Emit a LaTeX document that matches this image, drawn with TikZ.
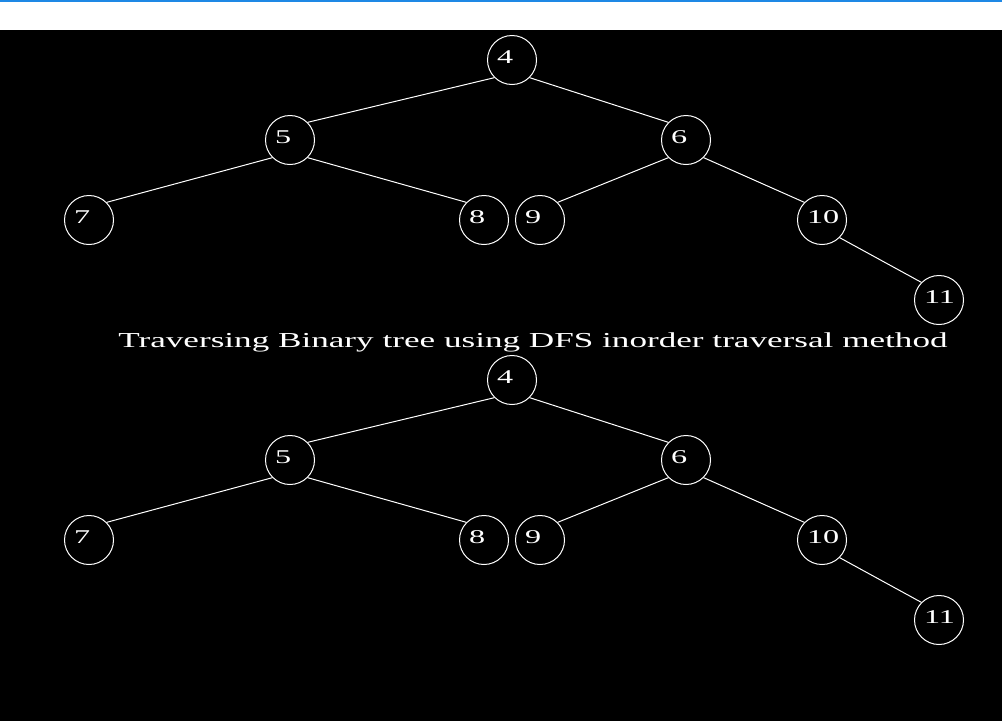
\documentclass[tikz,border=0pt]{standalone}
\usepackage{fontspec}
\newfontfamily\bgifont[FakeStretch=1.65]{Liberation Serif}
\usetikzlibrary{positioning}
\definecolor{barblue}{RGB}{30,136,229}
\tikzset{vertex/.style={circle,draw=white,line width=1pt,minimum size=49pt,inner sep=0pt,
		text=white,font=\bgifont\fontsize{19.5}{20}\selectfont,
		text width=30pt,align=left,text depth=6pt},
		edge/.style={draw=white,line width=1pt},
		caption/.style={text=white,font=\bgifont\fontsize{21.3}{22}\selectfont,inner sep=0pt,anchor=base}}

\begin{document}
\begin{tikzpicture}[x=1pt,y=-1pt]
\useasboundingbox (0,0) rectangle (1002,721);
\fill[white] (0,0) rectangle (1002,30);
\fill[barblue] (0,0) rectangle (1002,2);
\fill[black] (0,30) rectangle (1002,721);
\foreach \t/\dy in {up/0,dn/320} {
	\node[vertex] (\t4) at (512,60+\dy) {4};
	\node[vertex] (\t5) at (290,140+\dy) {5};
	\node[vertex] (\t6) at (686,140+\dy) {6};
	\node[vertex] (\t7) at (89,220+\dy) {7};
	\node[vertex] (\t8) at (484,220+\dy) {8};
	\node[vertex] (\t9) at (540,220+\dy) {9};
	\node[vertex] (\t10) at (822,220+\dy) {10};
	\node[vertex] (\t11) at (939,300+\dy) {11};
	% left child: south west -> north east, right child: south east -> north west
	\draw[edge] (\t4.south west) -- (\t5.north east);
	\draw[edge] (\t4.south east) -- (\t6.north west);
	\draw[edge] (\t5.south west) -- (\t7.north east);
	\draw[edge] (\t5.south east) -- (\t8.north west);
	\draw[edge] (\t6.south west) -- (\t9.north east);
	\draw[edge] (\t6.south east) -- (\t10.north west);
	\draw[edge] (\t10.south east) -- (\t11.north west);
}
\node[caption] (title) at (533,347) {Traversing Binary tree using DFS inorder traversal method};
\end{tikzpicture}
\end{document}
